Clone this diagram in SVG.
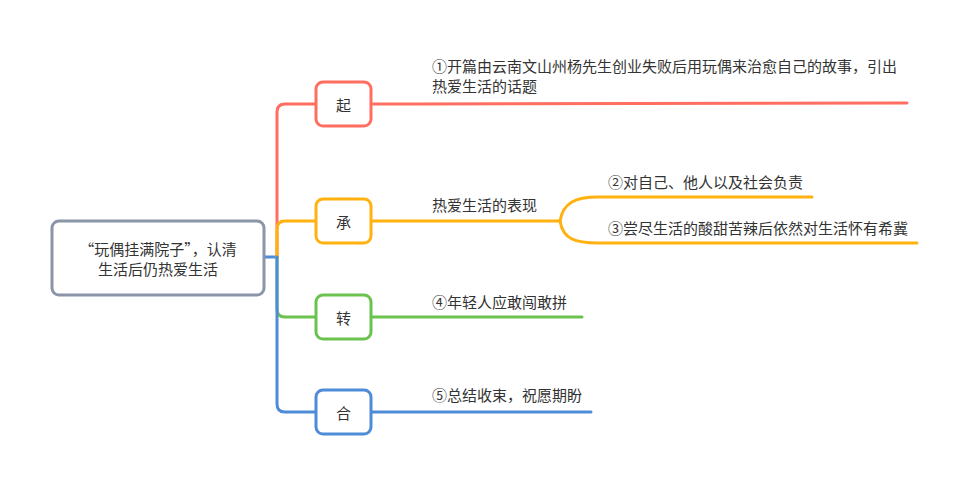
<svg xmlns="http://www.w3.org/2000/svg" width="967" height="485" viewBox="0 0 967 485">
<style>
text{font-family:"Noto Sans CJK SC","Liberation Sans",sans-serif;font-size:15px;fill:#333333}
.c{text-anchor:middle;dominant-baseline:central}
.l{dominant-baseline:central}
.ln{fill:none;stroke-width:3;stroke-linecap:round;stroke-linejoin:round}
.box{fill:#ffffff;stroke-width:3}
.r{stroke:#ff6e61}.o{stroke:#ffb20f}.g{stroke:#6cc24f}.b{stroke:#4e8bd8}
</style>
<rect width="967" height="485" fill="#ffffff"/>
<g id="connectors">
<path class="ln b" d="M264,257 H277"/>
<path class="ln r" d="M277,257 V112 Q277,104 285,104 H315"/>
<path class="ln o" d="M277,257 V229 Q277,221 285,221 H315"/>
<path class="ln g" d="M277,257 V309 Q277,317 285,317 H315"/>
<path class="ln b" d="M277,257 V404 Q277,412 285,412 H315"/>
<path class="ln r" d="M371,104 H420 L907,103"/>
<path class="ln o" d="M371,221 H560"/>
<path class="ln o" d="M560,221 C563,203 575,197 598,197 H812"/>
<path class="ln o" d="M560,221 C563,239 575,243 598,243 H917"/>
<path class="ln g" d="M371,317 H582"/>
<path class="ln b" d="M371,412 H591"/>
</g>
<g id="root">
<rect class="box" x="52" y="221" width="212" height="74" rx="7" stroke="#8a96a8"/>
<text class="c" x="158" y="248">“玩偶挂满院子”，认清</text>
<text class="c" x="158" y="268">生活后仍热爱生活</text>
</g>
<g id="qi">
<rect class="box r" x="316" y="82" width="55" height="44" rx="7"/>
<text class="c" x="343.5" y="104">起</text>
</g>
<g id="cheng">
<rect class="box o" x="316" y="199" width="55" height="44" rx="7"/>
<text class="c" x="343.5" y="221">承</text>
</g>
<g id="zhuan">
<rect class="box g" x="316" y="295" width="55" height="44" rx="7"/>
<text class="c" x="343.5" y="317">转</text>
</g>
<g id="he">
<rect class="box b" x="316" y="390" width="55" height="44" rx="7"/>
<text class="c" x="343.5" y="412">合</text>
</g>
<g id="t1">
<text class="l" x="432" y="65">①开篇由云南文山州杨先生创业失败后用玩偶来治愈自己的故事，引出</text>
<text class="l" x="432" y="85">热爱生活的话题</text>
</g>
<g id="t-cheng">
<text class="l" x="432" y="204">热爱生活的表现</text>
</g>
<g id="t2">
<text class="l" x="608" y="181">②对自己、他人以及社会负责</text>
</g>
<g id="t3">
<text class="l" x="608" y="227">③尝尽生活的酸甜苦辣后依然对生活怀有希冀</text>
</g>
<g id="t4">
<text class="l" x="432" y="301">④年轻人应敢闯敢拼</text>
</g>
<g id="t5">
<text class="l" x="432" y="394">⑤总结收束，祝愿期盼</text>
</g>
</svg>
